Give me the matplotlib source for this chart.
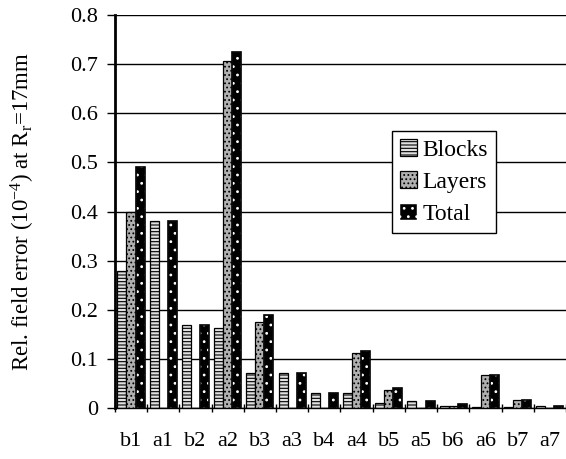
import numpy as np
import matplotlib
matplotlib.use('Agg')
import matplotlib.pyplot as plt

# harmonic labels and relative field errors (units of 1e-4)
harmonics = ['b1', 'a1', 'b2', 'a2', 'b3', 'a3', 'b4', 'a4', 'b5', 'a5', 'b6', 'a6', 'b7', 'a7']
blocks = [0.28, 0.38, 0.17, 0.163, 0.071, 0.071, 0.03, 0.03, 0.01, 0.015, 0.005, 0.003, 0.002, 0.004]
layers = [0.40, 0.0, 0.0, 0.707, 0.175, 0.0, 0.0, 0.113, 0.037, 0.0, 0.004, 0.068, 0.016, 0.0]
total = [0.49, 0.38, 0.17, 0.725, 0.189, 0.071, 0.03, 0.117, 0.04, 0.015, 0.008, 0.068, 0.017, 0.004]

plt.rcParams['font.family'] = ['Liberation Serif', 'DejaVu Serif']
plt.rcParams['mathtext.fontset'] = 'custom'
plt.rcParams['mathtext.rm'] = 'Liberation Serif'
plt.rcParams['mathtext.it'] = 'Liberation Serif'
plt.rcParams['hatch.linewidth'] = 0.8

fig = plt.figure(figsize=(5.66, 4.59), dpi=100)
ax = fig.add_axes([0.203, 0.111, 0.797, 0.856])

x = np.arange(len(harmonics))
w = 0.28

# Blocks: light with fine horizontal lines
b1 = ax.bar(x - w, blocks, w, color='#e0e0e0', edgecolor='black', hatch='-----',
            linewidth=0.9, label='Blocks', zorder=3)
# Layers: stippled grey
b2 = ax.bar(x, layers, w, color='#b0b0b0', edgecolor='black', hatch='....',
            linewidth=0.9, label='Layers', zorder=3)
# Total: black with white marks
b3 = ax.bar(x + w, total, w, color='black', edgecolor='white', hatch='..',
            linewidth=0.3, zorder=3)
ax.bar(x + w, total, w, fill=False, edgecolor='black', linewidth=1.2, zorder=4)
b3.set_label('Total')

ax.set_xlim(-0.5, len(harmonics) - 0.5)
ax.set_ylim(0, 0.8)
ax.set_yticks(np.arange(0, 0.81, 0.1))
ax.set_yticklabels(['0', '0.1', '0.2', '0.3', '0.4', '0.5', '0.6', '0.7', '0.8'], fontsize=16)
ax.set_xticks(x)
ax.set_xticklabels(harmonics, fontsize=16)
ax.set_xticks(np.arange(-0.5, len(harmonics), 1), minor=True)
ax.tick_params(axis='x', which='major', length=0, pad=17)
ax.tick_params(axis='x', which='minor', length=6, direction='inout', width=1)
ax.tick_params(axis='y', length=6, direction='out', width=1, pad=6)

ax.yaxis.grid(True, color='black', linewidth=1)
ax.set_axisbelow(True)
for s in ['top', 'right']:
    ax.spines[s].set_visible(False)
ax.spines['left'].set_linewidth(2)
ax.spines['bottom'].set_linewidth(1)

ax.set_ylabel('Rel. field error (10$^{-4}$) at R$_{\\mathrm{r}}$=17mm', fontsize=16.5)
ax.yaxis.set_label_coords(-0.172, 0.5)

leg = ax.legend(handles=[b1, b2, b3], loc='upper left', bbox_to_anchor=(0.614, 0.705),
                fontsize=17, frameon=True, fancybox=False, framealpha=1,
                edgecolor='black', handlelength=0.7, handleheight=0.7,
                handletextpad=0.25, labelspacing=0.45, borderpad=0.35,
                borderaxespad=0)
leg.get_frame().set_linewidth(1)

plt.savefig('out.png', dpi=100)
